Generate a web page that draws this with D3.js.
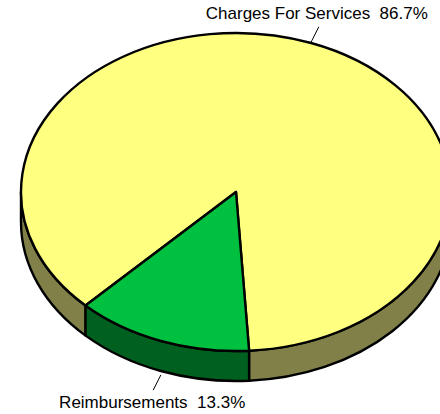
<!DOCTYPE html>
<html>
<head>
<meta charset="utf-8">
<script src="https://cdn.jsdelivr.net/npm/d3@7"></script>
<style>
  html, body { margin: 0; padding: 0; background: #fff; }
  svg { display: block; }
  text { font-family: "Liberation Sans", Arial, sans-serif; font-size: 17px; fill: #000; white-space: pre; }
</style>
</head>
<body>
<svg id="chart" width="440" height="414"></svg>
<script>
// Revenue split
const categories = ["Charges For Services", "Reimbursements"];
const shares = [86.7, 13.3];
const percentLabels = ["86.7%", "13.3%"];
const topColors = ["#ffff80", "#00c040"];
const sideColors = ["#808048", "#006020"];

const W = 440, H = 414;
const cx = 236, cy = 192;   // pie centre
const rx = 215, ry = 159;   // tilted ellipse radii
const depth = 30;           // thickness of the disc
const firstAngle = 224.4 * Math.PI / 180;

const svg = d3.select("#chart");

const pie = d3.pie().sort(null).value(d => d)
  .startAngle(firstAngle).endAngle(firstAngle + 2 * Math.PI);
const arcs = pie(shares);

// point on the ellipse for a d3 pie angle (clockwise from 12 o'clock)
const pt = (a, dy = 0) => [cx + rx * Math.sin(a), cy - ry * Math.cos(a) + dy];

// side wall: visible part of the outer rim lies in the front half (90°..270°)
function sidePieces(a0, a1) {
  const out = [];
  for (let k = -1; k <= 2; k++) {
    const lo = Math.PI / 2 + k * 2 * Math.PI, hi = 3 * Math.PI / 2 + k * 2 * Math.PI;
    const s = Math.max(a0, lo), e = Math.min(a1, hi);
    if (e > s) out.push([s, e]);
  }
  return out;
}

function sidePath(s, e) {
  const p0 = pt(s), p1 = pt(e), q1 = pt(e, depth), q0 = pt(s, depth);
  const large = (e - s) > Math.PI ? 1 : 0;
  return `M${p0}A${rx},${ry} 0 ${large} 1 ${p1}L${q1}A${rx},${ry} 0 ${large} 0 ${q0}Z`;
}

const sides = svg.append("g");
arcs.forEach((d, i) => {
  sidePieces(d.startAngle, d.endAngle).forEach(([s, e]) => {
    sides.append("path")
      .attr("d", sidePath(s, e))
      .attr("fill", sideColors[i])
      .attr("stroke", "#000")
      .attr("stroke-width", 2.4)
      .attr("stroke-linejoin", "round");
  });
});

// top faces: unit-radius arcs stretched onto the ellipse
const arc = d3.arc().innerRadius(0).outerRadius(1);
svg.append("g")
  .attr("transform", `translate(${cx},${cy}) scale(${rx},${ry})`)
  .selectAll("path")
  .data(arcs)
  .join("path")
  .attr("d", arc)
  .attr("fill", (d, i) => topColors[i])
  .attr("stroke", "#000")
  .attr("stroke-width", 2.4)
  .attr("stroke-linejoin", "round")
  .attr("vector-effect", "non-scaling-stroke");

// leader lines and labels
const labels = svg.append("g");
arcs.forEach((d, i) => {
  const mid = (d.startAngle + d.endAngle) / 2;
  const front = Math.cos(mid) < 0;
  const start = pt(mid, front ? depth + 4 : -1);
  const dx = Math.sin(mid), dy = -Math.cos(mid) * ry / rx;
  const len = Math.hypot(dx, dy);
  const L = 17;
  const end = [start[0] + dx / len * L, start[1] + dy / len * L];
  labels.append("line")
    .attr("x1", start[0]).attr("y1", start[1])
    .attr("x2", end[0]).attr("y2", end[1])
    .attr("stroke", "#000").attr("stroke-width", 1);
  labels.append("text")
    .attr("x", end[0] - (front ? 1 : 2))
    .attr("y", front ? end[1] + 18 : end[1] - 8)
    .attr("text-anchor", "middle")
    .text(`${categories[i]}  ${percentLabels[i]}`);
});
</script>
</body>
</html>
